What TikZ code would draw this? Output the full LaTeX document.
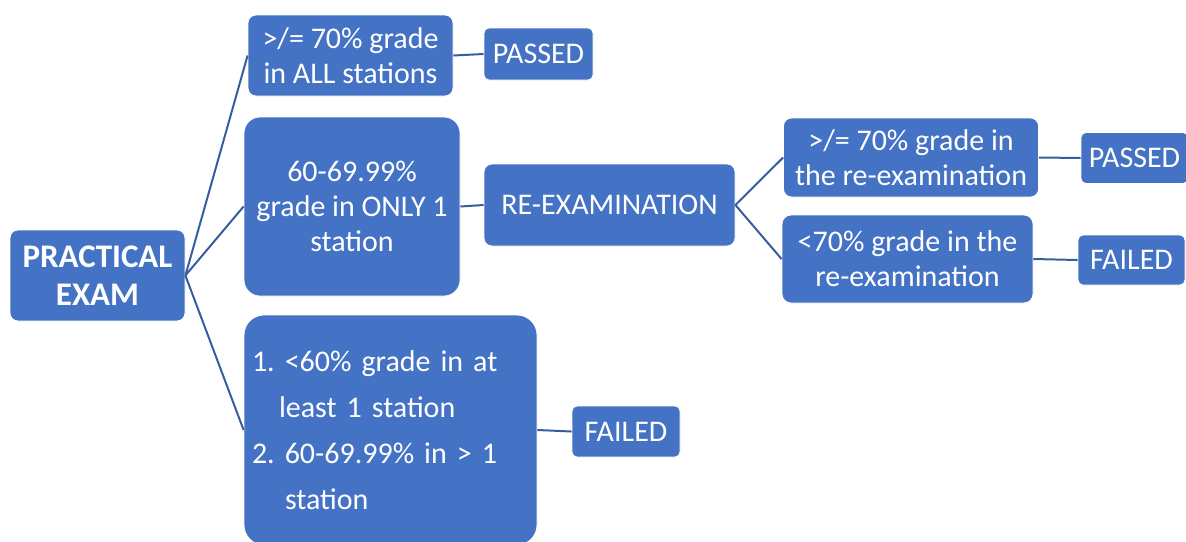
\documentclass[tikz,border=0pt]{standalone}
\usepackage{fontspec}
\setmainfont{Carlito}
\definecolor{boxblue}{HTML}{4472C4}
\definecolor{lineblue}{HTML}{385D9E}
\tikzset{
  box/.style={draw=white, line width=0.8pt, fill=boxblue, text=white, align=center,
    inner sep=0pt, font=\fontsize{30}{35}\selectfont},
  link/.style={draw=lineblue, line width=2pt},
  sz/.style n args={2}{minimum width=#1pt, minimum height=#2pt}
}
\begin{document}
\begin{tikzpicture}[x=1pt,y=-1pt]
\useasboundingbox (0,0) rectangle (1186,541);
\node[box, sz={175}{91}, rounded corners=8pt, font=\bfseries\fontsize{33}{38}\selectfont] (pe) at (97.5,275.5) {PRACTICAL\\EXAM};
\node[box, sz={205}{81}, rounded corners=8pt] (t1) at (350.5,55.5) {>/= 70\% grade\\in ALL stations};
\node[box, sz={109}{52}, rounded corners=5pt] (p1) at (538.5,54) {PASSED};
\node[box, sz={216}{179}, rounded corners=16pt] (t2) at (352,206.5) {60-69.99\%\\grade in ONLY 1\\station};
\node[box, sz={251}{82}, rounded corners=8pt] (re) at (609.5,205) {RE-EXAMINATION};
\node[box, sz={255}{79}, rounded corners=8pt] (r1) at (911,157.5) {>/= 70\% grade in\\the re-examination};
\node[box, sz={107}{51}, rounded corners=5pt] (p2) at (1134.5,158) {PASSED};
\node[box, sz={251}{88}, rounded corners=9pt] (r2) at (907.5,259) {<70\% grade in the\\re-examination};
\node[box, sz={107}{50}, rounded corners=5pt] (f2) at (1131.5,260) {FAILED};
\node[box, sz={293}{230}, rounded corners=20pt, align=left, text width=277pt, inner xsep=8pt, font=\fontsize{30}{46}\selectfont] (t3) at (390.5,430)
  {1.~<60\% grade in at\\\hspace*{27pt}least 1 station\\2.~60-69.99\% in > 1\\\hspace*{33pt}station};
\node[box, sz={108}{51}, rounded corners=5pt] (f1) at (626,431.5) {FAILED};
\draw[link] (pe.east) -- (t1.west);
\draw[link] (pe.east) -- (t2.west);
\draw[link] (pe.east) -- (t3.west);
\draw[link] (t1.east) -- (p1.west);
\draw[link] (t2.east) -- (re.west);
\draw[link] (re.east) -- (r1.west);
\draw[link] (re.east) -- (r2.west);
\draw[link] (r1.east) -- (p2.west);
\draw[link] (r2.east) -- (f2.west);
\draw[link] (t3.east) -- (f1.west);
\end{tikzpicture}
\end{document}
